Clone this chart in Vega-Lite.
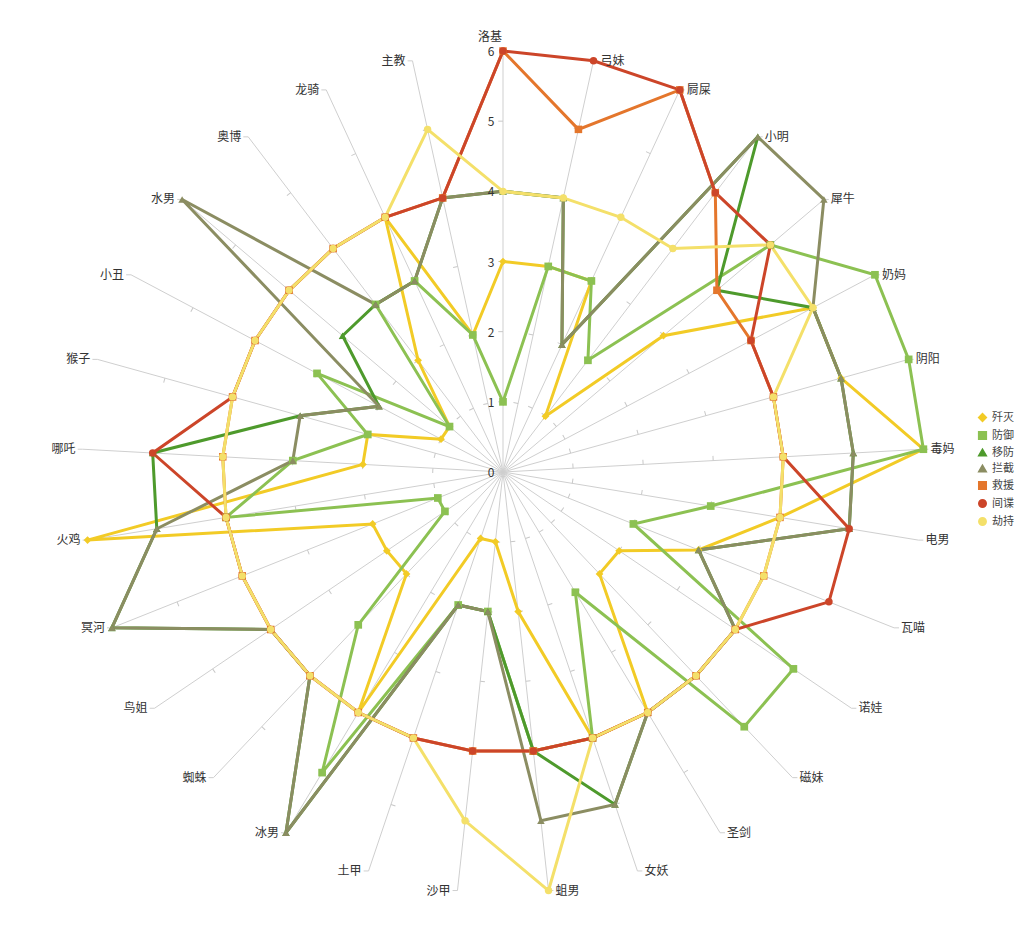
{
  "$schema": "https://vega.github.io/schema/vega-lite/v6.json",
  "width": 842,
  "height": 842,
  "autosize": {"type": "none"},
  "padding": {"left": 82, "top": 51, "right": 99, "bottom": 42},
  "background": "white",
  "config": {"view": {"stroke": null}, "font": "Noto Sans CJK SC"},
  "datasets": {
    "cats": [
      {"c": "洛基", "i": 0, "歼灭": 3, "防御": 1, "移防": 4, "拦截": 4, "救援": 6, "间谍": 6, "劫持": 4, "t": [1, 2, 3, 4, 5]},
      {"c": "弓妹", "i": 1, "歼灭": 3, "防御": 3, "移防": 4, "拦截": 4, "救援": 5, "间谍": 6, "劫持": 4, "t": [1, 2, 3, 4, 5]},
      {"c": "屙屎", "i": 2, "歼灭": 3, "防御": 3, "移防": 2, "拦截": 2, "救援": 6, "间谍": 6, "劫持": 4, "t": [1, 2, 3, 4, 5]},
      {"c": "小明", "i": 3, "歼灭": 1, "防御": 2, "移防": 6, "拦截": 6, "救援": 5, "间谍": 5, "劫持": 4, "t": [1, 2, 3, 4, 5]},
      {"c": "犀牛", "i": 4, "歼灭": 3, "防御": 5, "移防": 4, "拦截": 6, "救援": 4, "间谍": 5, "劫持": 5, "t": [1, 2, 3, 4, 5]},
      {"c": "奶妈", "i": 5, "歼灭": 5, "防御": 6, "移防": 5, "拦截": 5, "救援": 4, "间谍": 4, "劫持": 5, "t": [1, 2, 3, 4, 5]},
      {"c": "阴阳", "i": 6, "歼灭": 5, "防御": 6, "移防": 5, "拦截": 5, "救援": 4, "间谍": 4, "劫持": 4, "t": [1, 2, 3, 4, 5]},
      {"c": "毒妈", "i": 7, "歼灭": 6, "防御": 6, "移防": 5, "拦截": 5, "救援": 4, "间谍": 4, "劫持": 4, "t": [1, 2, 3, 4, 5]},
      {"c": "电男", "i": 8, "歼灭": 4, "防御": 3, "移防": 5, "拦截": 5, "救援": 4, "间谍": 5, "劫持": 4, "t": [1, 2, 3, 4, 5]},
      {"c": "瓦喵", "i": 9, "歼灭": 3, "防御": 2, "移防": 3, "拦截": 3, "救援": 4, "间谍": 5, "劫持": 4, "t": [1, 2, 3, 4, 5]},
      {"c": "诺娃", "i": 10, "歼灭": 2, "防御": 5, "移防": 4, "拦截": 4, "救援": 4, "间谍": 4, "劫持": 4, "t": [1, 2, 3, 4, 5]},
      {"c": "磁妹", "i": 11, "歼灭": 2, "防御": 5, "移防": 4, "拦截": 4, "救援": 4, "间谍": 4, "劫持": 4, "t": [1, 2, 3, 4, 5]},
      {"c": "圣剑", "i": 12, "歼灭": 4, "防御": 2, "移防": 4, "拦截": 4, "救援": 4, "间谍": 4, "劫持": 4, "t": [1, 2, 3, 4, 5]},
      {"c": "女妖", "i": 13, "歼灭": 4, "防御": 4, "移防": 5, "拦截": 5, "救援": 4, "间谍": 4, "劫持": 4, "t": [1, 2, 3, 4, 5]},
      {"c": "蛆男", "i": 14, "歼灭": 2, "防御": 4, "移防": 4, "拦截": 5, "救援": 4, "间谍": 4, "劫持": 6, "t": [1, 2, 3, 4, 5]},
      {"c": "沙甲", "i": 15, "歼灭": 1, "防御": 2, "移防": 2, "拦截": 2, "救援": 4, "间谍": 4, "劫持": 5, "t": [1, 2, 3, 4, 5]},
      {"c": "土甲", "i": 16, "歼灭": 1, "防御": 2, "移防": 2, "拦截": 2, "救援": 4, "间谍": 4, "劫持": 4, "t": [1, 2, 3, 4, 5]},
      {"c": "冰男", "i": 17, "歼灭": 4, "防御": 5, "移防": 6, "拦截": 6, "救援": 4, "间谍": 4, "劫持": 4, "t": [1, 2, 3, 4, 5]},
      {"c": "蜘蛛", "i": 18, "歼灭": 2, "防御": 3, "移防": 4, "拦截": 4, "救援": 4, "间谍": 4, "劫持": 4, "t": [1, 2, 3, 4, 5]},
      {"c": "鸟姐", "i": 19, "歼灭": 2, "防御": 1, "移防": 4, "拦截": 4, "救援": 4, "间谍": 4, "劫持": 4, "t": [1, 2, 3, 4, 5]},
      {"c": "冥河", "i": 20, "歼灭": 2, "防御": 1, "移防": 6, "拦截": 6, "救援": 4, "间谍": 4, "劫持": 4, "t": [1, 2, 3, 4, 5]},
      {"c": "火鸡", "i": 21, "歼灭": 6, "防御": 4, "移防": 5, "拦截": 5, "救援": 4, "间谍": 4, "劫持": 4, "t": [1, 2, 3, 4, 5]},
      {"c": "哪吒", "i": 22, "歼灭": 2, "防御": 3, "移防": 5, "拦截": 3, "救援": 4, "间谍": 5, "劫持": 4, "t": [1, 2, 3, 4, 5]},
      {"c": "猴子", "i": 23, "歼灭": 2, "防御": 2, "移防": 3, "拦截": 3, "救援": 4, "间谍": 4, "劫持": 4, "t": [1, 2, 3, 4, 5]},
      {"c": "小丑", "i": 24, "歼灭": 1, "防御": 3, "移防": 2, "拦截": 2, "救援": 4, "间谍": 4, "劫持": 4, "t": [1, 2, 3, 4, 5]},
      {"c": "水男", "i": 25, "歼灭": 1, "防御": 1, "移防": 3, "拦截": 6, "救援": 4, "间谍": 4, "劫持": 4, "t": [1, 2, 3, 4, 5]},
      {"c": "奥博", "i": 26, "歼灭": 2, "防御": 3, "移防": 3, "拦截": 3, "救援": 4, "间谍": 4, "劫持": 4, "t": [1, 2, 3, 4, 5]},
      {"c": "龙骑", "i": 27, "歼灭": 4, "防御": 3, "移防": 3, "拦截": 3, "救援": 4, "间谍": 4, "劫持": 4, "t": [1, 2, 3, 4, 5]},
      {"c": "主教", "i": 28, "歼灭": 2, "防御": 2, "移防": 4, "拦截": 4, "救援": 4, "间谍": 4, "劫持": 5, "t": [1, 2, 3, 4, 5]}
    ],
    "nums": [{"n": 0}, {"n": 1}, {"n": 2}, {"n": 3}, {"n": 4}, {"n": 5}, {"n": 6}]
  },
  "data": {"name": "cats"},
  "layer": [
    {
      "transform": [
        {"calculate": "6*sin(datum.i*2*PI/29)", "as": "ex"},
        {"calculate": "6*cos(datum.i*2*PI/29)", "as": "ey"},
        {"calculate": "0", "as": "cx"}
      ],
      "mark": {"type": "rule", "color": "#cfcfcf", "strokeWidth": 1},
      "encoding": {
        "x": {"field": "cx", "type": "quantitative", "scale": {"domain": [-6, 6], "nice": false, "zero": false}, "axis": null},
        "y": {"field": "cx", "type": "quantitative", "scale": {"domain": [-6, 6], "nice": false, "zero": false}, "axis": null},
        "x2": {"field": "ex"},
        "y2": {"field": "ey"}
      }
    },
    {
      "transform": [
        {"filter": "datum.i > 0"},
        {"calculate": "6*sin(datum.i*2*PI/29)", "as": "ex"},
        {"calculate": "6*cos(datum.i*2*PI/29)", "as": "ey"},
        {"calculate": "datum.ex > 0 ? datum.ex + 0.07 : datum.ex - 0.07", "as": "hx"}
      ],
      "mark": {"type": "rule", "color": "#cfcfcf", "strokeWidth": 1},
      "encoding": {
        "x": {"field": "ex", "type": "quantitative", "scale": {"domain": [-6, 6], "nice": false, "zero": false}, "axis": null},
        "y": {"field": "ey", "type": "quantitative", "scale": {"domain": [-6, 6], "nice": false, "zero": false}, "axis": null},
        "x2": {"field": "hx"}
      }
    },
    {
      "transform": [
        {"flatten": ["t"]},
        {"calculate": "datum.t*sin(datum.i*2*PI/29)", "as": "tx"},
        {"calculate": "datum.t*cos(datum.i*2*PI/29)", "as": "ty"},
        {"calculate": "datum.i*360/29", "as": "deg"}
      ],
      "mark": {"type": "point", "shape": "M-1,0L0,0", "filled": false, "size": 90, "stroke": "#c8c8c8", "strokeWidth": 1, "opacity": 1},
      "encoding": {
        "x": {"field": "tx", "type": "quantitative", "scale": {"domain": [-6, 6], "nice": false, "zero": false}, "axis": null},
        "y": {"field": "ty", "type": "quantitative", "scale": {"domain": [-6, 6], "nice": false, "zero": false}, "axis": null},
        "angle": {"field": "deg", "type": "quantitative", "scale": null}
      }
    },
    {
      "transform": [
        {"fold": ["歼灭", "防御", "移防", "拦截", "救援", "间谍", "劫持"], "as": ["s", "v"]},
        {"calculate": "datum.v*sin(datum.i*2*PI/29)", "as": "px"},
        {"calculate": "datum.v*cos(datum.i*2*PI/29)", "as": "py"}
      ],
      "mark": {"type": "line", "interpolate": "linear-closed", "strokeWidth": 3},
      "encoding": {
        "x": {"field": "px", "type": "quantitative", "scale": {"domain": [-6, 6], "nice": false, "zero": false}, "axis": null},
        "y": {"field": "py", "type": "quantitative", "scale": {"domain": [-6, 6], "nice": false, "zero": false}, "axis": null},
        "color": {
          "field": "s", "type": "nominal",
          "scale": {"domain": ["歼灭", "防御", "移防", "拦截", "救援", "间谍", "劫持"], "range": ["#f2cb26", "#8cc152", "#4e9a2c", "#8b8d62", "#e4762c", "#cc4529", "#f4e06a"]},
          "legend": {"orient": "none", "legendX": 895, "legendY": 361, "title": null, "labelFontSize": 11, "labelColor": "#444", "symbolSize": 60, "rowPadding": 3, "labelFont": "Noto Sans CJK SC"}
        },
        "order": {"field": "i", "type": "quantitative"}
      }
    },
    {
      "transform": [
        {"fold": ["歼灭", "防御", "移防", "拦截", "救援", "间谍", "劫持"], "as": ["s", "v"]},
        {"calculate": "datum.v*sin(datum.i*2*PI/29)", "as": "px"},
        {"calculate": "datum.v*cos(datum.i*2*PI/29)", "as": "py"}
      ],
      "mark": {"type": "point", "filled": true, "opacity": 1},
      "encoding": {
        "x": {"field": "px", "type": "quantitative", "scale": {"domain": [-6, 6], "nice": false, "zero": false}, "axis": null},
        "y": {"field": "py", "type": "quantitative", "scale": {"domain": [-6, 6], "nice": false, "zero": false}, "axis": null},
        "color": {
          "field": "s", "type": "nominal",
          "scale": {"domain": ["歼灭", "防御", "移防", "拦截", "救援", "间谍", "劫持"], "range": ["#f2cb26", "#8cc152", "#4e9a2c", "#8b8d62", "#e4762c", "#cc4529", "#f4e06a"]},
          "legend": {"orient": "none", "legendX": 895, "legendY": 361, "title": null, "labelFontSize": 11, "labelColor": "#444", "symbolSize": 60, "rowPadding": 3, "labelFont": "Noto Sans CJK SC"}
        },
        "shape": {
          "field": "s", "type": "nominal",
          "scale": {"domain": ["歼灭", "防御", "移防", "拦截", "救援", "间谍", "劫持"], "range": ["diamond", "square", "triangle-up", "triangle-up", "square", "circle", "circle"]},
          "legend": {"orient": "none", "legendX": 895, "legendY": 361, "title": null, "labelFontSize": 11, "labelColor": "#444", "symbolSize": 60, "rowPadding": 3, "labelFont": "Noto Sans CJK SC"}
        },
        "size": {
          "field": "s", "type": "nominal",
          "scale": {"domain": ["歼灭", "防御", "移防", "拦截", "救援", "间谍", "劫持"], "range": [60, 55, 60, 60, 75, 70, 45]},
          "legend": null
        }
      }
    },
    {
      "transform": [
        {"filter": "datum.i > 0 && datum.i < 15"},
        {"calculate": "6*sin(datum.i*2*PI/29)", "as": "ex"},
        {"calculate": "6*cos(datum.i*2*PI/29)", "as": "ey"}
      ],
      "mark": {"type": "text", "align": "left", "baseline": "middle", "dx": 7, "fontSize": 12, "color": "#333", "font": "Noto Sans CJK SC"},
      "encoding": {
        "x": {"field": "ex", "type": "quantitative", "scale": {"domain": [-6, 6], "nice": false, "zero": false}, "axis": null},
        "y": {"field": "ey", "type": "quantitative", "scale": {"domain": [-6, 6], "nice": false, "zero": false}, "axis": null},
        "text": {"field": "c"}
      }
    },
    {
      "transform": [
        {"filter": "datum.i >= 15"},
        {"calculate": "6*sin(datum.i*2*PI/29)", "as": "ex"},
        {"calculate": "6*cos(datum.i*2*PI/29)", "as": "ey"}
      ],
      "mark": {"type": "text", "align": "right", "baseline": "middle", "dx": -7, "fontSize": 12, "color": "#333", "font": "Noto Sans CJK SC"},
      "encoding": {
        "x": {"field": "ex", "type": "quantitative", "scale": {"domain": [-6, 6], "nice": false, "zero": false}, "axis": null},
        "y": {"field": "ey", "type": "quantitative", "scale": {"domain": [-6, 6], "nice": false, "zero": false}, "axis": null},
        "text": {"field": "c"}
      }
    },
    {
      "transform": [
        {"filter": "datum.i == 0"},
        {"calculate": "0", "as": "ex"},
        {"calculate": "6", "as": "ey"}
      ],
      "mark": {"type": "text", "align": "center", "baseline": "middle", "dx": -13, "dy": -14, "fontSize": 12, "color": "#333", "font": "Noto Sans CJK SC"},
      "encoding": {
        "x": {"field": "ex", "type": "quantitative", "scale": {"domain": [-6, 6], "nice": false, "zero": false}, "axis": null},
        "y": {"field": "ey", "type": "quantitative", "scale": {"domain": [-6, 6], "nice": false, "zero": false}, "axis": null},
        "text": {"field": "c"}
      }
    },
    {
      "data": {"name": "nums"},
      "transform": [{"calculate": "0", "as": "zx"}],
      "mark": {"type": "text", "align": "center", "baseline": "middle", "dx": -12, "dy": 1, "fontSize": 12, "color": "#333", "font": "Noto Sans CJK SC"},
      "encoding": {
        "x": {"field": "zx", "type": "quantitative", "scale": {"domain": [-6, 6], "nice": false, "zero": false}, "axis": null},
        "y": {"field": "n", "type": "quantitative", "scale": {"domain": [-6, 6], "nice": false, "zero": false}, "axis": null},
        "text": {"field": "n", "type": "quantitative"}
      }
    }
  ]
}
